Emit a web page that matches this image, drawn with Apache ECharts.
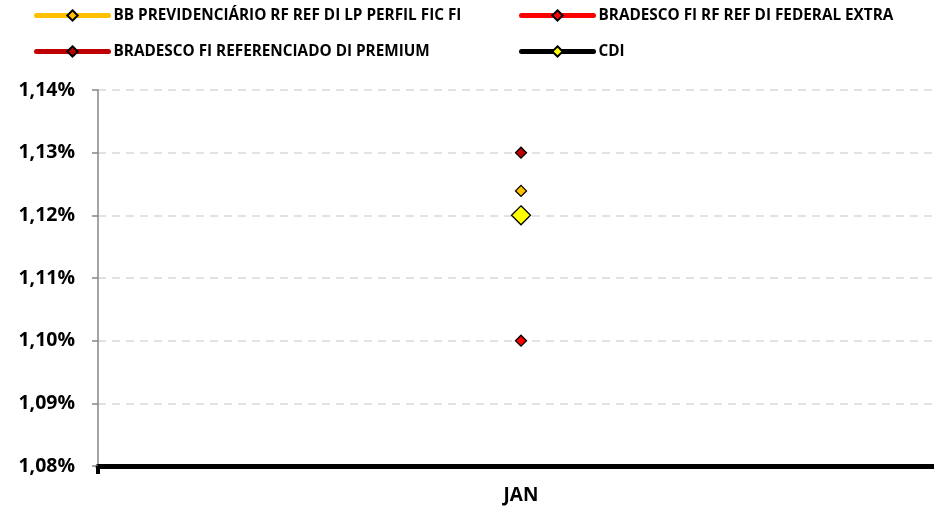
<!DOCTYPE html>
<html><head><meta charset="utf-8">
<script src="https://cdn.jsdelivr.net/npm/echarts@6/dist/echarts.min.js"></script>
<style>html,body{margin:0;padding:0;background:#fff}#c{width:934px;height:512px}</style>
</head><body><div id="c"></div>
<script>
var categories = ['JAN'];
var seriesNames = ['BB PREVIDENCIÁRIO RF REF DI LP PERFIL FIC FI','BRADESCO FI RF REF DI FEDERAL EXTRA','BRADESCO FI REFERENCIADO DI PREMIUM','CDI'];
var bbValues = [1.1239];
var federalValues = [1.10];
var premiumValues = [1.13];
var cdiValues = [1.12];
var yTicks = ['1,08%','1,09%','1,10%','1,11%','1,12%','1,13%','1,14%'];

var FONT = '"Open Sans"';
function mk(name, data, lineColor, fill, size, z) {
  return {
    name: name, type: 'line', data: data, symbol: 'diamond', symbolSize: size,
    z: z,
    lineStyle: {color: lineColor, width: 5, cap: 'round'},
    itemStyle: {color: fill, borderColor: '#000', borderWidth: 1.3},
    emphasis: {disabled: true}
  };
}
var chart = echarts.init(document.getElementById('c'), null, {renderer: 'canvas'});
var legendCommon = {
  orient: 'vertical', top: 8, padding: 0, itemGap: 21, itemWidth: 72, itemHeight: 13,
  lineStyle: {width: 5, cap: 'round'},
  textStyle: {fontFamily: FONT, fontWeight: 'bold', fontSize: 15.3, color: '#000'}
};
chart.setOption({
  animation: false,
  legend: [
    Object.assign({left: 34, data: [seriesNames[0], seriesNames[2]]}, legendCommon),
    Object.assign({left: 519, data: [seriesNames[1], seriesNames[3]]}, legendCommon)
  ],
  grid: {left: 98, top: 90, right: -10, bottom: 46, containLabel: false, outerBoundsMode: 'none'},
  xAxis: {
    type: 'category', data: categories, boundaryGap: true,
    axisLine: {lineStyle: {color: '#000', width: 5}},
    axisTick: {show: true, length: 8, lineStyle: {color: '#000', width: 4}},
    axisLabel: {fontFamily: FONT, fontWeight: 'bold', fontSize: 19, color: '#000', margin: 20}
  },
  yAxis: {
    type: 'value', min: 1.08, max: 1.14, interval: 0.01,
    axisLine: {show: true, lineStyle: {color: '#868686', width: 1.5}},
    axisTick: {show: true, length: 6, lineStyle: {color: '#868686', width: 1.5}},
    splitLine: {lineStyle: {color: '#d9d9d9', type: [8, 6], width: 1.5}},
    axisLabel: {fontFamily: FONT, fontWeight: 'bold', fontSize: 19.5, color: '#000', margin: 23,
      formatter: function (v) { var i = Math.round((v - 1.08) / 0.01); return yTicks[i]; }}
  },
  series: [
    mk(seriesNames[0], bbValues, '#FFC000', '#FFC000', 11, 3),
    mk(seriesNames[1], federalValues, '#FF0000', '#FF0000', 11, 3),
    mk(seriesNames[2], premiumValues, '#C00000', '#C00000', 11, 3),
    mk(seriesNames[3], cdiValues, '#000000', '#FFFF00', 19, 2)
  ]
});
</script></body></html>
